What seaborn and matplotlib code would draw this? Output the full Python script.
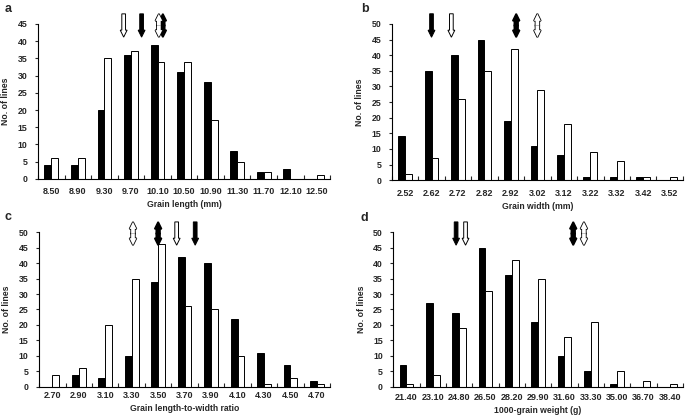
import numpy as np
import pandas as pd
import matplotlib
matplotlib.use('Agg')
import matplotlib.pyplot as plt
import matplotlib.patches as mpatches
import seaborn as sns

# class midpoints and number of lines per class (black = set 1, white = set 2)
length_bins = ['8.50', '8.90', '9.30', '9.70', '10.10', '10.50', '10.90', '11.30', '11.70', '12.10', '12.50']
length_black = [4, 4, 20, 36, 39, 31, 28, 8, 2, 3, 0]
length_white = [6, 6, 35, 37, 34, 34, 17, 5, 2, 0, 1]
length_arrows_black = [9.86, 10.18]   # single arrow, double arrow
length_arrows_white = [9.59, 10.12]

width_bins = ['2.52', '2.62', '2.72', '2.82', '2.92', '3.02', '3.12', '3.22', '3.32', '3.42', '3.52']
width_black = [14, 35, 40, 45, 19, 11, 8, 1, 1, 1, 0]
width_white = [2, 7, 26, 35, 42, 29, 18, 9, 6, 1, 1]
width_arrows_black = [2.62, 2.94]
width_arrows_white = [2.695, 3.02]

ratio_bins = ['2.70', '2.90', '3.10', '3.30', '3.50', '3.70', '3.90', '4.10', '4.30', '4.50', '4.70']
ratio_black = [0, 4, 3, 10, 34, 42, 40, 22, 11, 7, 2]
ratio_white = [4, 6, 20, 35, 46, 26, 25, 10, 1, 3, 1]
ratio_arrows_black = [3.78, 3.50]
ratio_arrows_white = [3.64, 3.31]

weight_bins = ['21.40', '23.10', '24.80', '26.50', '28.20', '29.90', '31.60', '33.30', '35.00', '36.70', '38.40']
weight_black = [7, 27, 24, 45, 36, 21, 10, 5, 1, 0, 0]
weight_white = [1, 4, 19, 31, 41, 35, 16, 21, 5, 2, 1]
weight_arrows_black = [24.61, 32.17]
weight_arrows_white = [25.22, 32.86]

sns.set_style('ticks')
plt.rcParams['font.family'] = ['Liberation Sans', 'DejaVu Sans']
plt.rcParams['font.weight'] = 'bold'
plt.rcParams['axes.labelweight'] = 'bold'

ARROW_TOP, ARROW_BOT = 1.065, 0.915


def arrow_piece(ax, x, y0, y1, fc, lw):
    ax.add_patch(mpatches.FancyArrow(
        x, y0, 0, y1 - y0, width=0.14, head_width=0.26, head_length=0.045,
        length_includes_head=True, transform=ax.get_xaxis_transform(),
        fc=fc, ec='black' if lw > 0 else 'none', lw=lw, clip_on=False))


def single_arrow(ax, x, fc):
    arrow_piece(ax, x, ARROW_TOP, ARROW_BOT, fc, 0.7)


def double_arrow(ax, x, fc):
    mid = (ARROW_TOP + ARROW_BOT) / 2
    arrow_piece(ax, x, mid, ARROW_TOP, fc, 1.2)
    arrow_piece(ax, x, mid, ARROW_BOT, fc, 1.2)
    # cover the seam in the middle
    arrow_piece(ax, x, mid, ARROW_TOP, fc, 0)
    arrow_piece(ax, x, mid, ARROW_BOT, fc, 0)


def panel(ax, bins, black, white, arr_black, arr_white, ymax, xlabel, xpad):
    df = pd.DataFrame({
        'bin': bins * 2,
        'count': black + white,
        'set': ['black'] * len(bins) + ['white'] * len(bins),
    })
    sns.barplot(data=df, x='bin', y='count', hue='set', order=bins,
                hue_order=['black', 'white'], palette=['black', 'white'],
                edgecolor='black', linewidth=0.7, width=0.52, saturation=1,
                legend=False, ax=ax)
    start = float(bins[0])
    step = float(bins[1]) - float(bins[0])
    single_arrow(ax, (arr_black[0] - start) / step, 'black')
    double_arrow(ax, (arr_black[1] - start) / step, 'black')
    single_arrow(ax, (arr_white[0] - start) / step, 'white')
    double_arrow(ax, (arr_white[1] - start) / step, 'white')

    n = len(bins)
    ax.set_xlim(-0.5, n - 0.5)
    ax.set_ylim(0, ymax)
    ax.set_yticks(range(0, ymax + 1, 5))
    ax.set_xticks(np.arange(-0.5, n, 1.0), minor=True)
    ax.tick_params(axis='x', which='major', length=0, pad=xpad, labelsize=6.5)
    ax.tick_params(axis='x', which='minor', direction='in', length=3, width=0.8)
    ax.tick_params(axis='y', direction='out', length=2.5, width=0.8, pad=5, labelsize=6.3)
    ax.set_xlabel(xlabel, fontsize=6.2, labelpad=3)
    ax.set_ylabel('No. of lines', fontsize=6.3)
    ax.yaxis.set_label_coords(-0.095, 0.5)
    for s in ['left', 'bottom']:
        ax.spines[s].set_linewidth(0.8)
        ax.spines[s].set_color('black')
    sns.despine(ax=ax)


fig = plt.figure(figsize=(6.85, 4.2), dpi=100)
ax_a = fig.add_axes([0.0555, 0.574, 0.4265, 0.369])
ax_b = fig.add_axes([0.572, 0.571, 0.425, 0.372])
ax_c = fig.add_axes([0.057, 0.0786, 0.425, 0.369])
ax_d = fig.add_axes([0.574, 0.0786, 0.423, 0.369])

panel(ax_a, length_bins, length_black, length_white, length_arrows_black,
      length_arrows_white, 45, 'Grain length (mm)', 6)
panel(ax_b, width_bins, width_black, width_white, width_arrows_black,
      width_arrows_white, 50, 'Grain width (mm)', 6)
panel(ax_c, ratio_bins, ratio_black, ratio_white, ratio_arrows_black,
      ratio_arrows_white, 50, 'Grain length-to-width ratio', 3)
panel(ax_d, weight_bins, weight_black, weight_white, weight_arrows_black,
      weight_arrows_white, 50, '1000-grain weight (g)', 4)

for label, x, y in [('a', 0.007, 0.978), ('b', 0.527, 0.978),
                    ('c', 0.007, 0.484), ('d', 0.527, 0.482)]:
    fig.text(x, y, label, fontsize=9, fontweight='bold', ha='left', va='center')

fig.savefig('out.png', dpi=100)
